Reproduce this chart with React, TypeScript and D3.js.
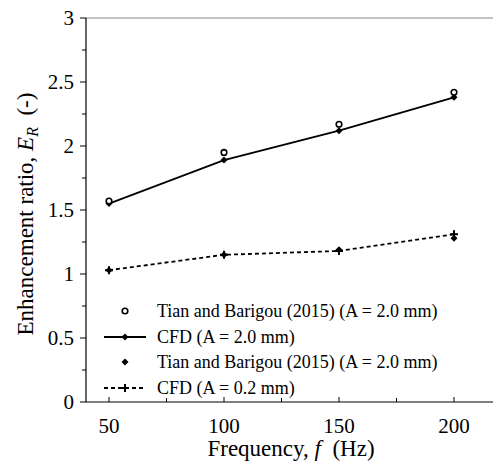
import * as React from "react"
import * as d3 from "d3"

const freq = [50, 100, 150, 200]
const expHigh = [1.57, 1.95, 2.17, 2.42]
const cfdHigh = [1.55, 1.89, 2.12, 2.38]
const expLow = [1.03, 1.15, 1.19, 1.28]
const cfdLow = [1.03, 1.15, 1.18, 1.31]
const xTicks = [50, 100, 150, 200]
const xMinor = [75, 125, 175]
const yTicks = [0, 0.5, 1, 1.5, 2, 2.5, 3]
const yMinor = [0.25, 0.75, 1.25, 1.75, 2.25, 2.75]
const legendLabels = [
  "Tian and Barigou (2015) (A = 2.0 mm)",
  "CFD (A = 2.0 mm)",
  "Tian and Barigou (2015) (A = 2.0 mm)",
  "CFD (A = 0.2 mm)",
]

const width = 493
const height = 461
const margin = { top: 18, right: 0, bottom: 58, left: 86 }
const tf = { fontFamily: "Liberation Serif" }

export default function App() {
  const x = d3.scaleLinear().domain([40, 220]).range([margin.left, margin.left + 414])
  const y = d3.scaleLinear().domain([0, 3]).range([height - margin.bottom - 1, margin.top])
  const x0 = x(40)
  const yBottom = y(0)

  const line = d3
    .line<number>()
    .x((_, i) => x(freq[i]))
    .y((d) => y(d))

  const diamond = (cx: number, cy: number, r: number) =>
    `M${cx},${cy - r}L${cx + r},${cy}L${cx},${cy + r}L${cx - r},${cy}Z`
  const plus = (cx: number, cy: number, r: number) =>
    `M${cx - r},${cy}H${cx + r}M${cx},${cy - r}V${cy + r}`

  const legendY = [311, 337, 362, 388]
  const lx1 = 104
  const lx2 = 146
  const lmx = 125

  return (
    <svg width={width} height={height} style={{ position: "absolute", left: 0, top: 0 }}>
      <rect width={width} height={height} fill="#fff" />
      {/* frame */}
      <line x1={x0} x2={width} y1={y(3)} y2={y(3)} stroke="#888" strokeWidth={1.2} />
      <line x1={x0} x2={x0} y1={y(3)} y2={yBottom} stroke="#000" strokeWidth={1.2} />
      <line x1={x0} x2={width} y1={yBottom} y2={yBottom} stroke="#000" strokeWidth={1.2} />

      {/* y ticks */}
      {yTicks.map((t) => (
        <g key={"y" + t}>
          <line x1={x0 - 6} x2={x0} y1={y(t)} y2={y(t)} stroke="#000" strokeWidth={1} />
          <text x={x0 - 12} y={y(t)} dy="0.35em" textAnchor="end" fontSize={21} style={tf}>
            {t}
          </text>
        </g>
      ))}
      {yMinor.map((t) => (
        <line key={"ym" + t} x1={x0 - 4} x2={x0} y1={y(t)} y2={y(t)} stroke="#000" strokeWidth={1} />
      ))}

      {/* x ticks */}
      {xTicks.map((t) => (
        <g key={"x" + t}>
          <line x1={x(t)} x2={x(t)} y1={yBottom} y2={yBottom - 5} stroke="#000" strokeWidth={1} />
          <text x={x(t)} y={433} textAnchor="middle" fontSize={21} style={tf}>
            {t}
          </text>
        </g>
      ))}
      {xMinor.map((t) => (
        <line key={"xm" + t} x1={x(t)} x2={x(t)} y1={yBottom} y2={yBottom - 4} stroke="#000" strokeWidth={1} />
      ))}

      {/* axis titles */}
      <text x={291} y={456} textAnchor="middle" fontSize={23} style={tf}>
        Frequency, <tspan fontStyle="italic">f</tspan>
        {"\u00a0\u00a0(Hz)"}
      </text>
      <text
        transform={`translate(33, 214) rotate(-90)`}
        textAnchor="middle"
        fontSize={23}
        style={tf}
      >
        Enhancement ratio, <tspan fontStyle="italic">E</tspan>
        <tspan fontStyle="italic" fontSize={16} dy={5}>R</tspan>
        <tspan dy={-5}>{"\u00a0\u00a0(-)"}</tspan>
      </text>

      {/* series */}
      <path d={line(cfdHigh) || ""} fill="none" stroke="#000" strokeWidth={1.8} />
      <path d={line(cfdLow) || ""} fill="none" stroke="#000" strokeWidth={1.8} strokeDasharray="4,3" />
      {cfdHigh.map((v, i) => (
        <path key={"ch" + i} d={diamond(x(freq[i]), y(v), 3.5)} fill="#000" />
      ))}
      {expHigh.map((v, i) => (
        <circle key={"eh" + i} cx={x(freq[i])} cy={y(v)} r={2.8} fill="#fff" stroke="#000" strokeWidth={1.6} />
      ))}
      {expLow.map((v, i) => (
        <path key={"el" + i} d={diamond(x(freq[i]), y(v), 3.5)} fill="#000" />
      ))}
      {cfdLow.map((v, i) => (
        <path key={"cl" + i} d={plus(x(freq[i]), y(v), 4)} stroke="#000" strokeWidth={2} />
      ))}

      {/* legend */}
      <circle cx={lmx} cy={legendY[0]} r={2.8} fill="#fff" stroke="#000" strokeWidth={1.6} />
      <line x1={lx1} x2={lx2} y1={legendY[1]} y2={legendY[1]} stroke="#000" strokeWidth={1.8} />
      <path d={diamond(lmx, legendY[1], 3.5)} fill="#000" />
      <path d={diamond(lmx, legendY[2], 3.5)} fill="#000" />
      <line x1={lx1} x2={lx2} y1={legendY[3]} y2={legendY[3]} stroke="#000" strokeWidth={1.8} strokeDasharray="4,3" />
      <path d={plus(lmx, legendY[3], 4)} stroke="#000" strokeWidth={2} />
      {legendLabels.map((l, i) => (
        <text key={"l" + i} x={157} y={legendY[i]} dy="0.35em" fontSize={18} style={tf}>
          {l}
        </text>
      ))}
    </svg>
  )
}
